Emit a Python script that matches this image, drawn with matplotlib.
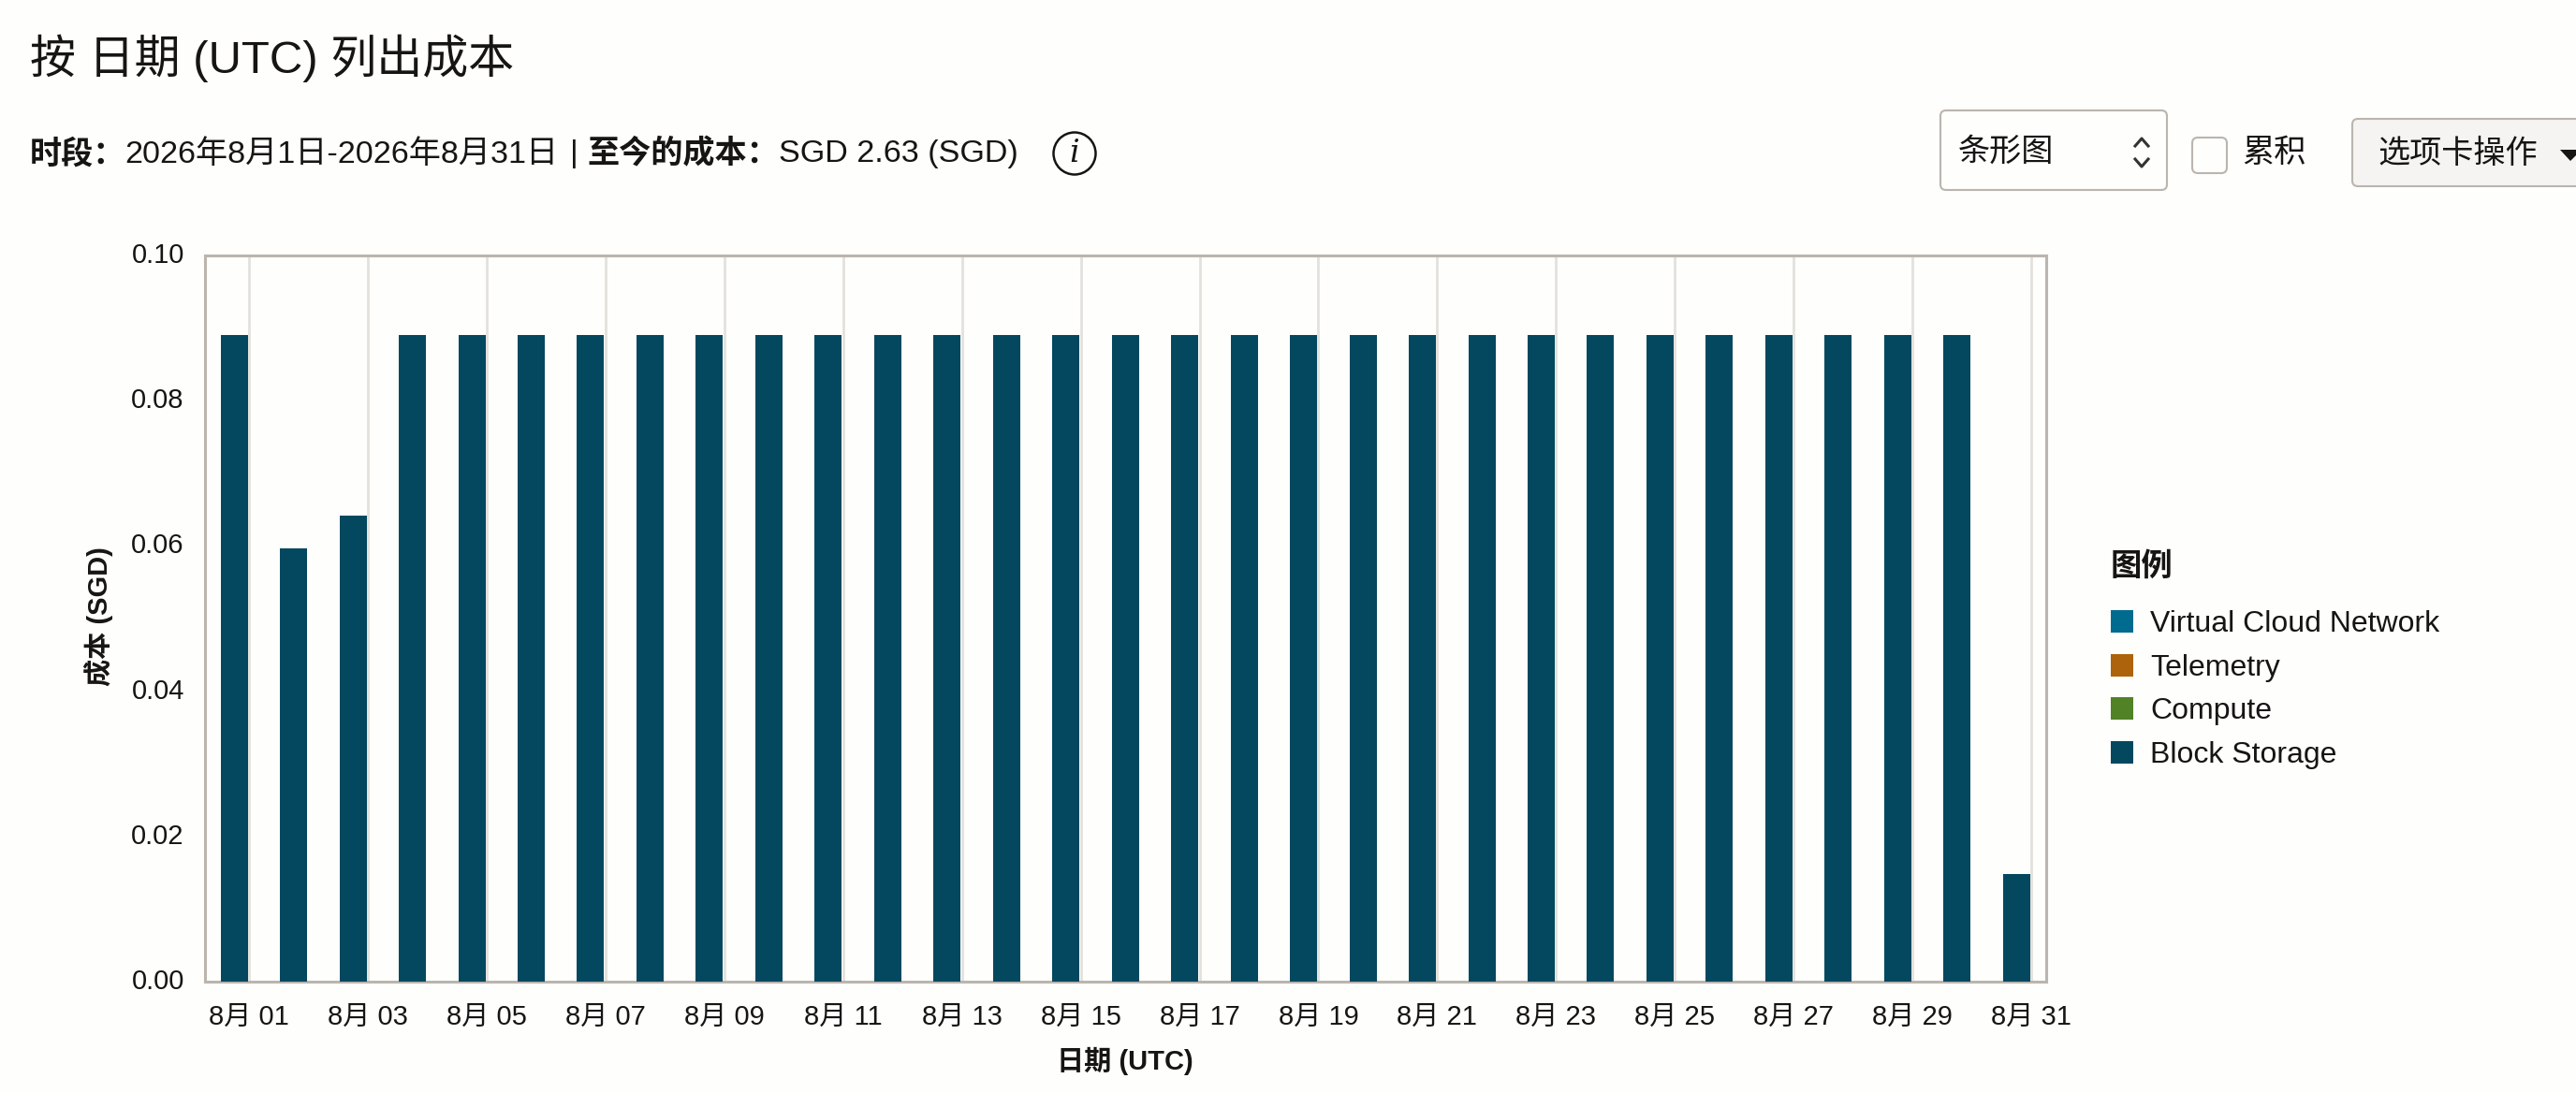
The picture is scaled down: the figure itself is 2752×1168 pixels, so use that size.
import matplotlib
matplotlib.use("Agg")
import matplotlib.pyplot as plt
from matplotlib.patches import Rectangle, FancyBboxPatch, Circle, Polygon
from matplotlib.transforms import ScaledTranslation

plt.rcParams['font.family'] = ['Liberation Sans', 'Noto Sans CJK SC']

# data
days = list(range(1, 32))
block_storage = [0.0891, 0.0597, 0.0642] + [0.0891] * 27 + [0.0148]
compute = [0.0] * 31
telemetry = [0.0] * 31
vcn = [0.0] * 31
series_names = ["Virtual Cloud Network", "Telemetry", "Compute", "Block Storage"]
series_colors = ["#006B8F", "#AC630C", "#518226", "#04485F"]
y_ticks = [0.00, 0.02, 0.04, 0.06, 0.08, 0.10]
tick_days = days[::2]

W, H = 2752, 1168
BG = "#FEFEFC"
TEXT = "#161513"
AXIS = "#BAB5AE"
GRID = "#E4E1DD"

fig = plt.figure(figsize=(W / 100, H / 100), dpi=100, facecolor=BG)

# overlay in pixel coordinates for the page controls
page = fig.add_axes([0, 0, 1, 1])
page.set_xlim(0, W)
page.set_ylim(H, 0)
page.axis("off")


def label(x, y, s, size=24.6, weight="normal", ha="left", **kw):
    page.text(x, y, s, fontsize=size, fontweight=weight, ha=ha, va="center", color=TEXT, **kw)


# chart
left, right, top, bottom = 219, 2186, 273, 1049
ax = fig.add_axes([left / W, 1 - bottom / H, (right - left) / W, (bottom - top) / H], facecolor=BG)
x = [d - 1 for d in days]
bar_x = [v - 0.25 for v in x]
base = [0.0] * 31
for name, values, color in zip(series_names, [vcn, telemetry, compute, block_storage], series_colors):
    ax.bar(bar_x, values, width=0.457, bottom=base, color=color, linewidth=0, label=name, zorder=3)
    base = [a + b for a, b in zip(base, values)]

ax.set_xlim(-0.7405, 30.25)
ax.set_ylim(0, 0.10)
ax.set_xticks([d - 1 for d in tick_days])
ax.set_xticklabels(["8月 %02d" % d for d in tick_days], fontsize=21, color=TEXT)
ax.set_yticks(y_ticks)
ax.set_yticklabels(["%.2f" % v for v in y_ticks], fontsize=21, color=TEXT)
ax.tick_params(axis="both", length=0)
ax.tick_params(axis="x", pad=17)
ax.tick_params(axis="y", pad=16)
# y labels sit a little above their tick in the original
for t in ax.get_yticklabels():
    t.set_transform(t.get_transform() + ScaledTranslation(0, 3 / 100, fig.dpi_scale_trans))
ax.grid(axis="x", color=GRID, linewidth=2.0, zorder=0)
ax.set_axisbelow(True)
for s in ax.spines.values():
    s.set_color(AXIS)
    s.set_linewidth(2.2)

label(105, 659, "成本 (SGD)", size=21, weight="bold", ha="center", rotation=90)
label(1202, 1134, "日期 (UTC)", size=21, weight="bold", ha="center")

# header
label(32, 62, "按 日期 (UTC) 列出成本", size=35.3)
label(32, 165, "时段：", weight="bold")
label(133, 165, "2026年8月1日-2026年8月31日")
label(609, 165, "|")
label(627, 165, "至今的成本：", weight="bold")
label(832, 165, "SGD 2.63 (SGD)")
page.add_patch(Circle((1148, 164), 22.5, fill=False, ec=TEXT, lw=1.8))
page.text(1148, 164, "i", fontsize=24, family="DejaVu Serif", style="italic", ha="center", va="center", color=TEXT)

# controls
page.add_patch(FancyBboxPatch((2073, 118), 242, 85, boxstyle="round,pad=0,rounding_size=6", fc=BG, ec=AXIS, lw=1.5))
label(2092, 163, "条形图")
page.plot([2281, 2288, 2295], [156, 148, 156], color="#333333", lw=2.2)
page.plot([2281, 2288, 2295], [170, 178, 170], color="#333333", lw=2.2)
page.add_patch(FancyBboxPatch((2342, 147), 37, 38, boxstyle="round,pad=0,rounding_size=6", fc=BG, ec=AXIS, lw=1.5))
label(2395, 164, "累积")
page.add_patch(FancyBboxPatch((2513, 127), 300, 72, boxstyle="round,pad=0,rounding_size=6", fc="#F5F4F2", ec=AXIS, lw=1.5))
label(2540, 165, "选项卡操作")
page.add_patch(Polygon([(2735, 160), (2758, 160), (2746, 172)], closed=True, fc=TEXT, ec="none"))

# legend
label(2255, 606, "图例", size=24, weight="bold")
legend_y = [664, 711, 757, 804]
for name, color, ly in zip(series_names, series_colors, legend_y):
    page.add_patch(Rectangle((2255, ly - 12), 24, 24, fc=color, ec="none"))
    label(2297, ly + 3, name, size=23)

fig.savefig("out.png", dpi=100, facecolor=BG)
